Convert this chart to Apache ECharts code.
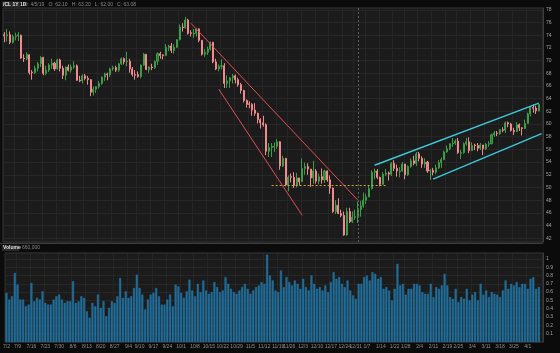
<!DOCTYPE html>
<html>
<head>
<meta charset="utf-8">
<script src="https://cdn.jsdelivr.net/npm/echarts@6/dist/echarts.min.js"></script>
<style>
  html, body { margin: 0; padding: 0; background: #0b0b0b; }
  #chart { width: 560px; height: 353px; }
</style>
</head>
<body>
<div id="chart"></div>
<script>
// /CL daily, Jul 2018 - Apr 2019
const symbol = '/CL 1Y 1D'

const dates = [
  '2018-07-02','2018-07-03','2018-07-05','2018-07-06','2018-07-09','2018-07-10','2018-07-11','2018-07-12','2018-07-13','2018-07-16','2018-07-17','2018-07-18','2018-07-19','2018-07-20','2018-07-23','2018-07-24','2018-07-25','2018-07-26','2018-07-27','2018-07-30','2018-07-31',
  '2018-08-01','2018-08-02','2018-08-03','2018-08-06','2018-08-07','2018-08-08','2018-08-09','2018-08-10','2018-08-13','2018-08-14','2018-08-15','2018-08-16','2018-08-17','2018-08-20','2018-08-21','2018-08-22','2018-08-23','2018-08-24','2018-08-27','2018-08-28','2018-08-29','2018-08-30','2018-08-31',
  '2018-09-04','2018-09-05','2018-09-06','2018-09-07','2018-09-10','2018-09-11','2018-09-12','2018-09-13','2018-09-14','2018-09-17','2018-09-18','2018-09-19','2018-09-20','2018-09-21','2018-09-24','2018-09-25','2018-09-26','2018-09-27','2018-09-28',
  '2018-10-01','2018-10-02','2018-10-03','2018-10-04','2018-10-05','2018-10-08','2018-10-09','2018-10-10','2018-10-11','2018-10-12','2018-10-15','2018-10-16','2018-10-17','2018-10-18','2018-10-19','2018-10-22','2018-10-23','2018-10-24','2018-10-25','2018-10-26','2018-10-29','2018-10-30','2018-10-31',
  '2018-11-01','2018-11-02','2018-11-05','2018-11-06','2018-11-07','2018-11-08','2018-11-09','2018-11-12','2018-11-13','2018-11-14','2018-11-15','2018-11-16','2018-11-19','2018-11-20','2018-11-21','2018-11-23','2018-11-26','2018-11-27','2018-11-28','2018-11-29','2018-11-30',
  '2018-12-03','2018-12-04','2018-12-05','2018-12-06','2018-12-07','2018-12-10','2018-12-11','2018-12-12','2018-12-13','2018-12-14','2018-12-17','2018-12-18','2018-12-19','2018-12-20','2018-12-21','2018-12-24','2018-12-26','2018-12-27','2018-12-28','2018-12-31',
  '2019-01-02','2019-01-03','2019-01-04','2019-01-07','2019-01-08','2019-01-09','2019-01-10','2019-01-11','2019-01-14','2019-01-15','2019-01-16','2019-01-17','2019-01-18','2019-01-22','2019-01-23','2019-01-24','2019-01-25','2019-01-28','2019-01-29','2019-01-30','2019-01-31',
  '2019-02-01','2019-02-04','2019-02-05','2019-02-06','2019-02-07','2019-02-08','2019-02-11','2019-02-12','2019-02-13','2019-02-14','2019-02-15','2019-02-19','2019-02-20','2019-02-21','2019-02-22','2019-02-25','2019-02-26','2019-02-27','2019-02-28',
  '2019-03-01','2019-03-04','2019-03-05','2019-03-06','2019-03-07','2019-03-08','2019-03-11','2019-03-12','2019-03-13','2019-03-14','2019-03-15','2019-03-18','2019-03-19','2019-03-20','2019-03-21','2019-03-22','2019-03-25','2019-03-26','2019-03-27','2019-03-28','2019-03-29',
  '2019-04-01','2019-04-02','2019-04-03','2019-04-04','2019-04-05'
]

// [open, close, low, high]
const ohlc = [
  [74.1,73.9,72.9,74.5],[73.9,74.1,73.0,75.0],[74.1,72.9,72.6,74.6],[72.9,73.8,72.7,74.1],[73.8,73.9,73.2,74.4],[73.9,74.1,73.1,74.5],[74.0,70.4,70.3,74.1],
  [70.4,70.3,69.8,71.0],[70.3,71.0,70.1,71.3],[70.9,68.1,67.8,71.0],[68.2,68.1,67.0,68.5],[68.1,68.8,67.9,69.2],[68.8,69.5,68.3,69.8],[69.5,70.5,69.0,70.7],
  [70.5,68.0,67.7,70.6],[68.0,68.5,67.7,69.2],[68.5,69.3,68.2,69.6],[69.3,69.6,68.7,70.3],[69.6,68.7,68.4,69.8],[68.7,70.1,68.6,70.3],[70.1,68.8,68.3,70.3],
  [68.8,67.7,67.1,69.2],[67.7,69.0,66.9,69.1],[69.0,68.5,68.3,69.4],[68.5,69.0,68.1,69.4],[69.0,69.2,68.7,69.9],[69.2,66.9,66.8,69.4],[66.9,66.8,66.6,67.6],
  [66.8,67.6,66.4,67.8],[67.6,67.2,66.9,67.9],[67.2,67.0,66.2,67.6],[67.0,65.0,64.4,67.1],[65.0,65.5,64.5,65.9],[65.5,65.9,64.9,66.0],[65.9,66.4,65.6,66.8],
  [66.4,67.4,66.2,67.5],[67.4,67.9,66.8,68.1],[67.9,67.8,66.9,68.1],[67.8,68.7,67.4,68.9],[68.7,68.9,68.4,69.2],[68.9,68.5,68.2,69.2],[68.5,69.5,68.2,69.6],
  [69.5,70.3,69.3,70.5],[70.3,69.8,69.4,70.5],
  [69.8,69.9,69.1,71.4],[69.9,68.7,68.1,70.3],[68.7,67.8,67.5,69.0],[67.8,67.7,67.0,68.5],[67.8,67.5,67.3,68.3],[67.5,69.3,67.2,69.4],[69.3,71.0,69.2,71.2],
  [71.0,68.6,68.5,71.0],[68.6,69.0,68.1,69.1],[69.0,68.9,68.5,69.5],[68.9,69.9,68.7,70.0],[69.9,71.1,69.3,71.3],[71.1,70.8,70.3,71.4],[70.9,70.8,70.2,71.0],
  [70.8,72.1,70.7,72.6],[72.1,72.3,71.5,72.5],[72.3,71.6,71.2,72.8],[71.6,72.1,71.1,72.6],[72.1,73.3,72.0,73.4],
  [73.3,75.3,73.2,75.7],[75.3,75.2,74.6,75.9],[75.2,76.4,75.0,76.9],[76.4,74.3,74.1,76.6],[74.4,74.3,73.8,74.8],[74.2,74.3,73.6,75.0],[74.3,75.0,73.8,75.1],
  [75.0,73.2,72.9,75.1],[73.2,71.0,70.8,73.1],[71.0,71.3,70.6,71.8],[71.3,71.8,70.9,72.2],[71.8,72.9,71.6,73.0],[72.9,69.8,69.6,72.5],[69.8,68.7,68.5,70.3],
  [68.7,69.1,68.3,69.4],[69.1,69.2,68.6,70.2],[69.2,66.4,65.7,69.6],[66.4,66.8,65.7,67.7],[66.8,67.3,65.7,67.4],[67.3,67.6,66.4,67.9],[67.6,67.0,66.4,67.8],
  [67.0,66.2,65.9,67.3],[66.2,65.3,64.8,66.5],
  [65.3,63.7,63.4,65.4],[63.7,63.1,62.6,63.9],[63.2,63.1,62.5,63.6],[63.1,62.2,61.3,63.3],[62.2,61.7,61.3,63.3],[61.7,60.7,60.1,61.8],[60.7,60.2,59.3,60.9],
  [60.2,59.9,59.6,61.3],[59.9,55.7,55.1,60.1],[55.7,56.3,54.8,57.0],[56.3,56.5,54.8,57.0],[56.4,56.5,55.6,57.1],[56.5,57.2,56.1,57.6],[57.2,53.4,52.8,57.3],
  [53.4,54.6,53.2,55.0],[54.6,50.4,50.2,54.6],[50.4,51.6,49.4,51.9],[51.7,51.6,50.8,52.2],[51.6,50.3,49.9,52.4],[50.3,51.5,50.0,52.3],[51.5,50.9,50.3,51.5],
  [50.9,53.0,50.9,54.6],[53.0,53.3,52.0,53.9],[53.3,52.9,52.0,53.8],[52.9,51.5,50.1,52.9],[51.5,52.6,50.6,54.2],[52.6,51.0,50.6,52.9],[51.0,51.7,50.5,52.2],
  [51.7,51.2,50.6,53.0],[51.2,52.6,50.7,52.8],[52.6,51.2,50.9,52.7],[51.2,49.9,49.0,51.9],[49.9,46.2,46.0,50.0],[46.2,47.2,45.8,48.0],[47.2,45.9,45.8,48.3],
  [45.9,45.6,45.3,46.5],[45.6,42.5,42.4,46.2],[42.5,46.2,42.4,46.8],[46.2,44.6,44.4,46.8],[44.6,45.3,44.4,46.2],[45.3,45.4,44.9,46.5],
  [45.4,46.5,44.4,47.8],[46.5,47.1,45.4,47.9],[47.1,48.0,46.8,49.2],[48.0,48.5,47.4,49.0],[48.5,49.8,48.5,50.3],[49.8,52.4,49.7,52.7],[52.4,52.6,51.3,53.0],
  [52.6,51.6,51.3,52.9],[51.6,50.5,50.2,51.7],[50.5,52.1,50.4,52.4],[52.1,52.3,51.8,52.9],[52.3,52.1,51.1,52.5],[52.1,53.8,51.8,54.0],[53.8,53.0,52.6,54.3],
  [53.0,52.6,51.7,53.6],[52.5,52.6,51.6,53.2],[52.6,53.7,52.5,54.0],[53.7,52.0,51.3,53.7],[52.0,53.3,51.8,53.5],[53.3,54.2,53.1,54.6],[54.2,53.8,53.5,55.0],
  [53.8,55.3,53.4,55.6],[55.3,54.6,54.1,55.6],[54.6,53.7,53.1,54.9],[53.7,54.0,53.1,54.6],[54.0,52.6,52.3,54.2],[52.6,52.7,51.2,52.9],[52.7,52.4,51.9,53.1],
  [52.4,53.1,52.1,53.6],[53.1,53.9,52.9,54.3],[53.9,54.4,53.1,54.7],[54.4,55.6,54.3,55.8],[55.6,56.1,55.5,56.6],[56.1,56.9,55.9,57.0],[56.9,57.0,56.4,57.8],
  [57.0,57.3,56.7,57.6],[57.3,55.5,55.3,57.8],[55.4,55.5,54.5,55.9],[55.5,56.9,55.3,57.1],[56.9,57.2,56.6,57.8],
  [57.2,55.8,55.4,57.9],[55.8,56.6,55.8,57.1],[56.7,56.6,55.9,56.9],[56.6,56.2,55.7,57.0],[56.2,56.7,55.9,57.0],[56.7,56.1,55.1,56.7],[56.1,56.8,55.9,57.0],
  [56.8,56.9,56.4,57.3],[56.9,58.3,56.8,58.5],[58.3,58.6,58.0,58.9],[58.6,58.5,58.1,58.9],[58.5,59.1,58.3,59.2],[59.1,59.0,58.7,59.5],[59.0,60.2,58.6,60.4],
  [60.2,60.0,59.5,60.4],[60.0,59.0,58.8,60.2],[59.0,58.8,58.3,59.4],[58.8,59.9,58.8,60.3],[59.9,59.4,58.9,60.1],[59.4,59.3,58.2,59.5],[59.3,60.1,59.2,60.7],
  [60.1,61.6,60.1,61.8],[61.6,62.6,61.2,62.8],[62.6,62.5,61.8,63.1],[62.5,62.1,61.6,62.9],[62.1,63.08,62.0,63.2]
]

// volume, millions of contracts
const volumes = [
  0.59,0.51,0.55,0.83,0.69,0.51,0.51,0.43,0.45,0.71,0.49,0.53,0.51,0.61,0.47,0.45,0.45,0.51,0.55,0.57,0.51,
  0.47,0.49,0.49,0.73,0.47,0.49,0.55,0.53,0.37,0.29,0.47,0.43,0.57,0.41,0.49,0.31,0.41,0.49,0.47,0.55,0.77,0.53,0.61,
  0.53,0.55,0.65,0.81,0.65,0.57,0.39,0.51,0.57,0.59,0.65,0.55,0.45,0.45,0.51,0.57,0.43,0.69,0.67,
  0.59,0.53,0.61,0.75,0.62,0.55,0.70,0.60,0.74,0.62,0.58,0.60,0.72,0.66,0.60,0.62,0.78,0.70,0.64,0.60,0.58,0.62,0.66,
  0.70,0.64,0.58,0.62,0.66,0.68,0.72,0.70,1.05,0.80,0.74,0.62,0.60,0.86,0.66,0.78,0.72,0.68,0.74,0.70,0.64,
  0.76,0.66,0.62,0.80,0.70,0.64,0.66,0.62,0.68,0.60,0.72,0.84,0.76,0.78,0.70,0.66,0.74,0.62,0.56,0.52,
  0.70,0.70,0.78,0.80,0.74,0.84,0.82,0.76,0.78,0.64,0.66,0.62,0.50,0.64,0.94,0.68,0.70,0.57,0.64,0.64,0.70,
  0.70,0.68,0.60,0.58,0.58,0.70,0.54,0.66,0.64,0.68,0.82,0.68,0.54,0.52,0.64,0.48,0.54,0.52,0.64,
  0.50,0.57,0.60,0.50,0.70,0.57,0.62,0.54,0.60,0.58,0.57,0.54,0.62,0.74,0.64,0.70,0.68,0.72,0.66,0.70,0.70,
  0.64,0.76,0.78,0.64,0.66
]

// drawn studies: [date, price] endpoints
const redUpper = [['2018-10-05', 75.9], ['2019-01-02', 48.0]]
const redLower = [['2018-10-19', 65.5], ['2018-12-03', 45.6]]
const cyanUpper = [['2019-01-10', 53.5], ['2019-04-05', 63.3]]
const cyanLower = [['2019-02-11', 51.3], [193, 58.5]]
const supportLevel = [['2018-11-15', 50.4], ['2019-01-16', 50.4]]
const yearStart = '2019-01-02'

const priceRange = [41.4, 78.3]
const priceStep = 2
const volRange = [0, 1.07]
const volStep = 0.1

const categories = dates.concat([''])
const last = ohlc[ohlc.length - 1]
const lastDate = dates[dates.length - 1].split('-').map(Number)

function weekId(s) {
  const p = s.split('-').map(Number)
  return Math.floor((Date.UTC(p[0], p[1] - 1, p[2]) / 864e5 + 3) / 7)
}
function isWeekStart(i, v) {
  if (!v) return false
  return i === 0 || weekId(v) !== weekId(categories[i - 1])
}
function shortDate(v) {
  if (!v) return ''
  const p = v.split('-').map(Number)
  return p[1] + '/' + p[2]
}

const chart = echarts.init(document.getElementById('chart'))
const GRID_BG = '#1b1b1b'
const SPLIT = '#262626'
const LABEL = '#a3a3a3'

chart.setOption({
  backgroundColor: '#0b0b0b',
  animation: false,
  grid: [
    { left: 3, right: 17, top: 8, height: 234, show: true, backgroundColor: GRID_BG, borderColor: '#3a3a3a', borderWidth: 1 },
    { left: 3, right: 17, top: 253, height: 89, show: true, backgroundColor: GRID_BG, borderColor: '#3a3a3a', borderWidth: 1 }
  ],
  xAxis: [
    {
      type: 'category', gridIndex: 0, data: categories, boundaryGap: true,
      axisLine: { show: false }, axisTick: { show: false }, axisLabel: { show: false },
      splitLine: { show: true, interval: isWeekStart, lineStyle: { color: SPLIT } }
    },
    {
      type: 'category', gridIndex: 1, data: categories, boundaryGap: true,
      axisLine: { show: false }, axisTick: { show: false },
      axisLabel: { interval: isWeekStart, formatter: shortDate, color: '#8e8e8e', fontSize: 5, margin: 2, fontFamily: 'Liberation Sans' },
      splitLine: { show: true, interval: isWeekStart, lineStyle: { color: SPLIT } }
    }
  ],
  yAxis: [
    {
      type: 'value', gridIndex: 0, position: 'right', scale: true,
      min: priceRange[0], max: priceRange[1], minInterval: priceStep, maxInterval: priceStep, splitNumber: 18,
      axisLine: { show: true, lineStyle: { color: '#3c3c3c' } }, axisTick: { show: false },
      axisLabel: {
        color: LABEL, fontSize: 5, margin: 3, fontFamily: 'Liberation Sans',
        showMinLabel: false, showMaxLabel: false,
        formatter: v => Number.isInteger(v) ? String(v) : ''
      },
      splitLine: { show: true, lineStyle: { color: SPLIT } }
    },
    {
      type: 'value', gridIndex: 1, position: 'right',
      min: volRange[0], max: volRange[1], minInterval: volStep, maxInterval: volStep, splitNumber: 10,
      axisLine: { show: true, lineStyle: { color: '#3c3c3c' } }, axisTick: { show: false },
      axisLabel: {
        color: LABEL, fontSize: 5, margin: 3, fontFamily: 'Liberation Sans',
        showMinLabel: false, showMaxLabel: false,
        formatter: v => (v > 0 && Math.abs(v * 10 - Math.round(v * 10)) < 1e-6) ? String(+v.toFixed(1)) : ''
      },
      splitLine: { show: true, lineStyle: { color: SPLIT } }
    }
  ],
  series: [
    {
      type: 'candlestick', xAxisIndex: 0, yAxisIndex: 0, data: ohlc, barWidth: '55%',
      itemStyle: { color: '#2a7a34', color0: '#ee7377', borderColor: '#3c9d47', borderColor0: '#f08a8d', borderWidth: 1 },
      markLine: {
        silent: true, symbol: ['none', 'none'], animation: false,
        label: { show: false },
        data: [
          [{ coord: redUpper[0], lineStyle: { color: '#e24f55', width: 1, type: 'solid' } }, { coord: redUpper[1] }],
          [{ coord: redLower[0], lineStyle: { color: '#e24f55', width: 1, type: 'solid' } }, { coord: redLower[1] }],
          [{ coord: cyanUpper[0], lineStyle: { color: '#3cc9da', width: 1.4, type: 'solid' } }, { coord: cyanUpper[1] }],
          [{ coord: cyanLower[0], lineStyle: { color: '#3cc9da', width: 1.4, type: 'solid' } }, { coord: cyanLower[1] }],
          [{ coord: supportLevel[0], lineStyle: { color: '#d2a53c', width: 1, type: [2, 2] } }, { coord: supportLevel[1] }],
          { xAxis: yearStart, lineStyle: { color: '#5c5c5c', width: 1, type: [2, 2] } },
          {
            yAxis: last[1], lineStyle: { opacity: 0 },
            label: {
              show: true, position: 'end', distance: 1, formatter: last[1].toFixed(2),
              backgroundColor: '#25c23b', color: '#0a0a0a', fontSize: 5, padding: [1, 1, 0, 1],
              fontFamily: 'Liberation Sans', fontWeight: 'bold'
            }
          }
        ]
      }
    },
    {
      type: 'bar', xAxisIndex: 1, yAxisIndex: 1, data: volumes, barWidth: '72%',
      itemStyle: { color: '#1d6b98', borderColor: '#2b82b3', borderWidth: 0.4 }
    }
  ],
  graphic: [
    { type: 'rect', left: 0, top: 243, shape: { width: 543, height: 1 }, style: { fill: '#3e3e3e' } },
    { type: 'rect', left: 2, top: 245, shape: { width: 17, height: 6 }, style: { fill: '#2a2a2a' } },
    { type: 'text', left: 3, top: 245.5, style: { text: 'Volume', fill: '#dcdcdc', font: 'bold 5px Liberation Sans' } },
    { type: 'text', left: 22, top: 245.5, style: { text: Math.round(volumes[volumes.length - 1] * 1e6).toLocaleString('en-US'), fill: '#8a8a8a', font: '5px Liberation Sans' } },
    { type: 'rect', left: 2, top: 1.5, shape: { width: 18, height: 5.5 }, style: { fill: '#2a2a2a' } },
    { type: 'text', left: 3, top: 2, style: { text: symbol, fill: '#e6e6e6', font: 'bold 5px Liberation Sans' } },
    {
      type: 'text', left: 24, top: 2,
      style: {
        text: 'D: ' + lastDate[1] + '/' + lastDate[2] + '/' + String(lastDate[0]).slice(2) +
          '   O: ' + last[0].toFixed(2) + '   H: ' + last[3].toFixed(2) + '   L: ' + last[2].toFixed(2) + '   C: ' + last[1].toFixed(2),
        fill: '#8a8a8a', font: '5px Liberation Sans'
      }
    }
  ]
})
</script>
</body>
</html>
